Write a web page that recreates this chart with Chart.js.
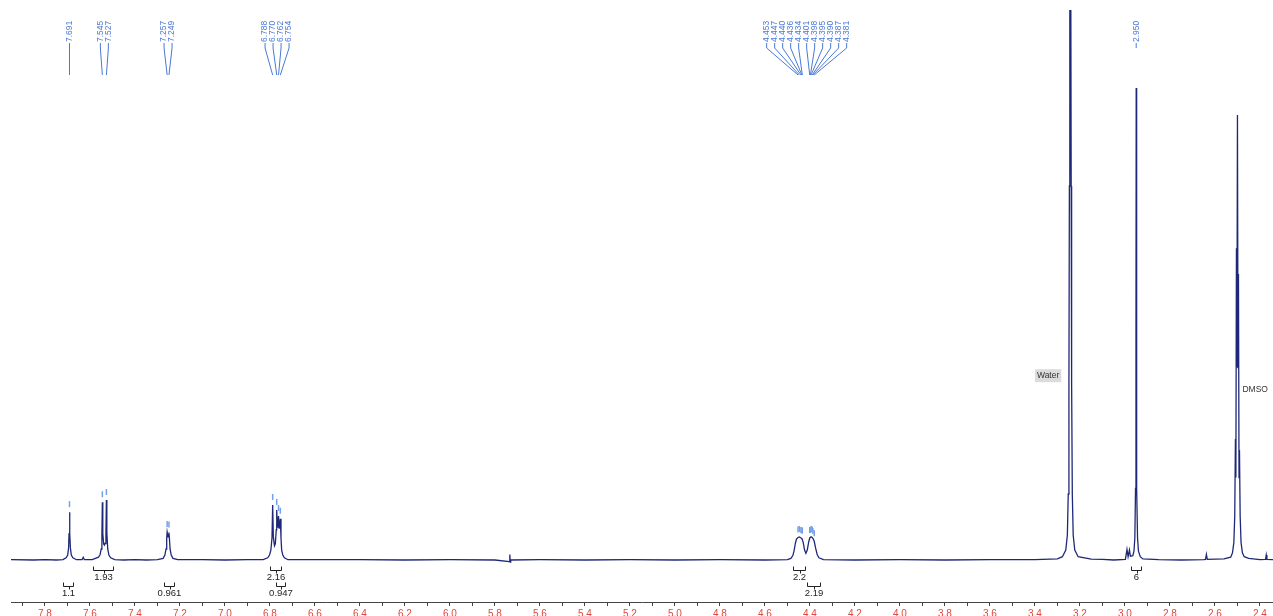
<!DOCTYPE html>
<html>
<head>
<meta charset="utf-8">
<title>1H NMR spectrum (DMSO-d6)</title>
<style>
  html, body { margin: 0; padding: 0; background: #ffffff; overflow: hidden; }
  canvas { display: block; }
</style>
<script src="https://cdn.jsdelivr.net/npm/chart.js@4"></script>
</head>
<body>
<canvas id="spectrum" width="1273" height="616"></canvas>
<script>
// ---- Spectrum trace: chemical shift (ppm) and intensity (arbitrary units) ----
const traceShift = [
  // left baseline
  7.951, 7.85, 7.80, 7.75, 7.72,
  // 7.691 singlet
  7.706, 7.699, 7.695, 7.693, 7.691, 7.689, 7.687, 7.683, 7.676, 7.66,
  // small bump
  7.635, 7.630, 7.625, 7.59,
  // 7.545 / 7.527 doublet
  7.562, 7.555, 7.550, 7.547, 7.545, 7.543, 7.539, 7.536, 7.533, 7.529, 7.527, 7.525, 7.521, 7.516, 7.508, 7.49,
  7.45, 7.40, 7.35, 7.30,
  // 7.257 / 7.249
  7.275, 7.267, 7.262, 7.259, 7.257, 7.253, 7.249, 7.247, 7.244, 7.239, 7.231, 7.21,
  7.10, 7.00, 6.90, 6.83,
  // 6.788 - 6.754 multiplet
  6.810, 6.802, 6.796, 6.791, 6.788, 6.785, 6.780, 6.776, 6.772, 6.770, 6.767, 6.765, 6.762, 6.759, 6.756, 6.754, 6.751, 6.748, 6.743, 6.736, 6.72,
  6.60, 6.40, 6.20, 6.00, 5.80,
  // spike
  5.736, 5.734, 5.732, 5.730,
  5.60, 5.40, 5.20, 5.00, 4.80, 4.60, 4.50,
  // 4.453 - 4.381 multiplets
  4.485, 4.476, 4.470, 4.465, 4.460, 4.453, 4.447, 4.440, 4.436, 4.430, 4.424, 4.418, 4.412, 4.406, 4.401, 4.395, 4.390, 4.385, 4.381, 4.375, 4.368, 4.360, 4.34,
  4.20, 4.00, 3.80, 3.60, 3.40, 3.30,
  // water
  3.278, 3.263, 3.256, 3.252, 3.249, 3.247, 3.245, 3.243, 3.241, 3.239, 3.237, 3.234, 3.230, 3.223, 3.208, 3.15, 3.10, 3.05,
  // small lines and 2.950 singlet
  2.998, 2.991, 2.986, 2.980, 2.976, 2.965, 2.960, 2.956, 2.953, 2.951, 2.950, 2.949, 2.947, 2.944, 2.940, 2.932, 2.92,
  2.85, 2.75, 2.65, 2.642, 2.638, 2.634, 2.56, 2.53,
  // DMSO quintet
  2.522, 2.516, 2.512, 2.509, 2.507, 2.5045, 2.5025, 2.500, 2.4975, 2.4955, 2.493, 2.491, 2.488, 2.484, 2.478, 2.47, 2.45,
  // right baseline
  2.40, 2.375, 2.372, 2.369, 2.342
];

const traceIntensity = [
  0.05, 0.0, 0.08, 0.0, 0.06,
  0.4, 0.9, 2.2, 4.8, 8.7, 4.8, 2.2, 0.9, 0.4, 0.05,
  0.05, 0.5, 0.05, 0.08,
  0.5, 1.0, 2.0, 4.5, 10.5, 4.8, 2.9, 2.7, 3.0, 5.0, 10.9, 5.0, 2.0, 0.9, 0.4, 0.05,
  0.0, 0.08, 0.0, 0.05,
  0.3, 0.9, 2.0, 4.0, 5.1, 4.2, 5.0, 4.0, 2.0, 0.9, 0.3, 0.05,
  0.06, 0.0, 0.08, 0.05,
  0.4, 0.9, 1.8, 4.0, 10.0, 4.2, 2.6, 3.0, 5.5, 9.1, 6.0, 6.5, 8.0, 5.8, 6.5, 7.5, 4.0, 1.8, 0.9, 0.4, 0.05,
  0.05, 0.08, 0.0, 0.06, 0.0,
  -0.3, 1.0, -0.4, 0.0,
  0.05, 0.0, 0.06, 0.0, 0.05, 0.0, 0.08,
  0.3, 0.8, 1.8, 3.0, 3.8, 4.1, 4.2, 4.0, 3.9, 3.2, 1.8, 1.2, 1.8, 3.2, 4.0, 4.2, 4.1, 3.8, 3.4, 2.2, 1.0, 0.4, 0.05,
  0.0, 0.06, 0.0, 0.05, 0.05, 0.2,
  0.6, 1.8, 4.5, 12, 32, 68, 110, 130, 110, 68, 32, 12, 4.5, 1.8, 0.6, 0.15, 0.1, 0.0,
  0.1, 1.9, 0.6, 1.8, 0.7, 0.8, 1.6, 4.0, 13, 40, 85.8, 40, 13, 4.0, 1.6, 0.6, 0.2,
  0.05, 0.0, 0.08, 0.1, 1.0, 0.1, 0.2, 0.5,
  1.3, 3.2, 8, 22, 15, 56.7, 35, 80.9, 35, 52, 15, 20, 8, 3.2, 1.3, 0.6, 0.3,
  0.05, 0.1, 0.9, 0.1, 0.05
];

// ---- Peak picking labels ----
const peakLabels = [
  '7.691', '7.545', '7.527', '7.257', '7.249',
  '6.788', '6.770', '6.762', '6.754',
  '4.453', '4.447', '4.440', '4.436', '4.434',
  '4.401', '4.398', '4.395', '4.390', '4.387', '4.381',
  '2.950'
];
const peaksWithoutLeader = ['2.950'];

// ---- Integrals ----
const integralFrom  = [7.720, 7.587, 7.270, 6.800, 6.772, 4.476, 4.413, 2.973];
const integralTo    = [7.676, 7.498, 7.225, 6.750, 6.735, 4.420, 4.356, 2.929];
const integralValue = ['1.1', '1.93', '0.961', '2.16', '0.947', '2.2', '2.19', '6'];
const integralRow   = [1, 0, 1, 0, 1, 0, 1, 0];

// ---- Solvent annotations ----
const solventNames = ['Water', 'DMSO'];
const solventShift = [3.243, 2.500];
const solventLabelLevel = [33.5, 30.9];

// ---- Axis ticks ----
const tickValues = [
  7.9, 7.8, 7.7, 7.6, 7.5, 7.4, 7.3, 7.2, 7.1, 7.0,
  6.9, 6.8, 6.7, 6.6, 6.5, 6.4, 6.3, 6.2, 6.1, 6.0,
  5.9, 5.8, 5.7, 5.6, 5.5, 5.4, 5.3, 5.2, 5.1, 5.0,
  4.9, 4.8, 4.7, 4.6, 4.5, 4.4, 4.3, 4.2, 4.1, 4.0,
  3.9, 3.8, 3.7, 3.6, 3.5, 3.4, 3.3, 3.2, 3.1, 3.0,
  2.9, 2.8, 2.7, 2.6, 2.5, 2.4
];
const tickLabels = [
  '7.8', '7.6', '7.4', '7.2', '7.0', '6.8', '6.6', '6.4', '6.2', '6.0', '5.8', '5.6', '5.4', '5.2',
  '5.0', '4.8', '4.6', '4.4', '4.2', '4.0', '3.8', '3.6', '3.4', '3.2', '3.0', '2.8', '2.6', '2.4'
];

const LABEL_BLUE = '#4a78d6';
const MARK_BLUE = '#76a0ea';
const FONT = '"Liberation Sans", Arial, sans-serif';

function intensityAt(ppm) {
  let best = 0, bestD = Infinity;
  for (let i = 0; i < traceShift.length; i++) {
    const d = Math.abs(traceShift[i] - ppm);
    if (d < bestD) { bestD = d; best = i; }
  }
  return traceIntensity[best];
}

// spread crowded peak labels evenly around their group centre
function spreadLabels(xs, gap) {
  const order = xs.map((x, i) => i).sort((a, b) => xs[a] - xs[b]);
  const out = new Array(xs.length);
  let group = [order[0]];
  const flush = () => {
    const mean = group.reduce((s, i) => s + xs[i], 0) / group.length;
    const start = mean - (group.length - 1) * gap / 2;
    group.forEach((idx, k) => { out[idx] = start + k * gap; });
  };
  for (let k = 1; k < order.length; k++) {
    const prev = order[k - 1], cur = order[k];
    if (xs[cur] - xs[prev] < gap) group.push(cur);
    else { flush(); group = [cur]; }
  }
  flush();
  return out;
}

const spectrumDecor = {
  id: 'spectrumDecor',
  afterDatasetsDraw(chart) {
    const ctx = chart.ctx;
    const xs = chart.scales.x, ys = chart.scales.y;
    ctx.save();

    // peak caps
    ctx.strokeStyle = MARK_BLUE;
    ctx.lineWidth = 1.5;
    peakLabels.forEach(lbl => {
      if (peaksWithoutLeader.includes(lbl)) return;
      const ppm = parseFloat(lbl);
      const px = xs.getPixelForValue(ppm);
      const top = ys.getPixelForValue(intensityAt(ppm));
      ctx.beginPath();
      ctx.moveTo(px, top - 11);
      ctx.lineTo(px, top - 5);
      ctx.stroke();
    });

    // peak labels with leader lines
    const peakPx = peakLabels.map(l => xs.getPixelForValue(parseFloat(l)));
    const labelPx = spreadLabels(peakPx, 8);
    ctx.strokeStyle = LABEL_BLUE;
    ctx.fillStyle = LABEL_BLUE;
    ctx.lineWidth = 1;
    ctx.font = '8.5px ' + FONT;
    peakLabels.forEach((lbl, i) => {
      const lx = labelPx[i], px = peakPx[i];
      ctx.beginPath();
      ctx.moveTo(lx, 43);
      if (peaksWithoutLeader.includes(lbl)) {
        ctx.lineTo(lx, 48);
      } else {
        ctx.lineTo(lx, 48);
        ctx.lineTo(px, 75);
      }
      ctx.stroke();
      ctx.save();
      ctx.translate(lx, 42);
      ctx.rotate(-Math.PI / 2);
      ctx.textAlign = 'left';
      ctx.textBaseline = 'middle';
      ctx.fillText(lbl, 0, 0);
      ctx.restore();
    });

    // integral brackets
    ctx.strokeStyle = '#222';
    ctx.fillStyle = '#222';
    ctx.lineWidth = 1;
    ctx.font = '9.5px ' + FONT;
    ctx.textAlign = 'center';
    ctx.textBaseline = 'top';
    integralValue.forEach((val, i) => {
      const x1 = Math.round(xs.getPixelForValue(integralFrom[i])) + 0.5;
      const x2 = Math.round(xs.getPixelForValue(integralTo[i])) + 0.5;
      const xc = Math.round((x1 + x2) / 2) + 0.5;
      const y = integralRow[i] === 0 ? 570.5 : 586.5;
      ctx.beginPath();
      ctx.moveTo(x1, y - 4); ctx.lineTo(x1, y); ctx.lineTo(x2, y); ctx.lineTo(x2, y - 4);
      ctx.moveTo(xc, y); ctx.lineTo(xc, y + 3);
      ctx.stroke();
      ctx.fillText(val, (x1 + x2) / 2, y + 2.5);
    });

    // solvent annotations
    ctx.font = '8.5px ' + FONT;
    ctx.textBaseline = 'middle';
    solventNames.forEach((name, i) => {
      const px = xs.getPixelForValue(solventShift[i]);
      const py = ys.getPixelForValue(solventLabelLevel[i]);
      const w = ctx.measureText(name).width;
      if (i === 0) {
        const right = px - 10;
        ctx.fillStyle = '#dcdcdc';
        ctx.fillRect(right - w - 3, py - 6.5, w + 4, 13);
        ctx.fillStyle = '#333';
        ctx.textAlign = 'right';
        ctx.fillText(name, right - 1, py);
      } else {
        ctx.fillStyle = '#333';
        ctx.textAlign = 'left';
        ctx.fillText(name, px + 5, py);
      }
    });

    ctx.restore();
  }
};

new Chart(document.getElementById('spectrum'), {
  type: 'line',
  data: {
    datasets: [{
      data: traceShift.map((x, i) => ({ x: x, y: traceIntensity[i] })),
      borderColor: '#1f2878',
      borderWidth: 1.3,
      pointRadius: 0,
      tension: 0,
      fill: false
    }]
  },
  options: {
    responsive: false,
    devicePixelRatio: 1,
    animation: false,
    layout: { padding: { left: 11, right: 0, top: 10, bottom: 0 } },
    plugins: { legend: { display: false }, tooltip: { enabled: false } },
    scales: {
      x: {
        type: 'linear',
        reverse: true,
        min: 2.342,
        max: 7.951,
        afterBuildTicks: (scale) => { scale.ticks = tickValues.map(v => ({ value: v })); },
        afterFit: (scale) => { scale.height = 14; },
        ticks: {
          autoSkip: false,
          maxRotation: 0,
          padding: 2,
          color: '#dd4a3c',
          font: { family: FONT, size: 10 },
          callback: (v) => {
            const s = Number(v).toFixed(1);
            return tickLabels.includes(s) ? s : '';
          }
        },
        grid: { drawOnChartArea: false, drawTicks: true, tickLength: 4, color: '#444', lineWidth: 1 },
        border: { display: true, color: '#444', width: 1 }
      },
      y: { display: false, min: -7.64, max: 100 }
    }
  },
  plugins: [spectrumDecor]
});
</script>
</body>
</html>
